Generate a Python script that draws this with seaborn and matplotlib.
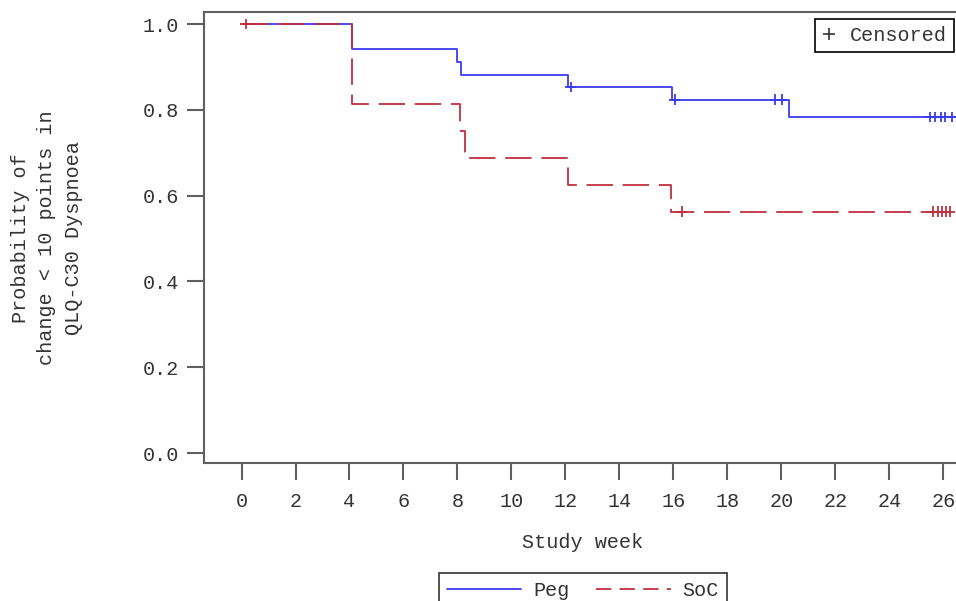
import pandas as pd
import seaborn as sns
import matplotlib.pyplot as plt
from matplotlib.lines import Line2D

# Kaplan-Meier step values (weeks, survival)
peg_weeks = [0, 4.09, 7.98, 8.13, 12.09, 15.94, 20.28, 26.6]
peg_surv = [1.0, 0.941, 0.912, 0.882, 0.853, 0.824, 0.783, 0.783]
peg_cens_weeks = [12.2, 16.05, 19.76, 20.02, 25.5, 25.7, 25.9, 26.06, 26.31]
peg_cens_surv = [0.853, 0.824, 0.824, 0.824, 0.783, 0.783, 0.783, 0.783, 0.783]

soc_weeks = [0, 4.09, 8.09, 8.28, 12.09, 15.9, 26.6]
soc_surv = [1.0, 0.8125, 0.75, 0.6875, 0.625, 0.5625, 0.5625]
soc_cens_weeks = [0.15, 16.31, 25.6, 25.8, 25.95, 26.1, 26.24]
soc_cens_surv = [1.0, 0.5625, 0.5625, 0.5625, 0.5625, 0.5625, 0.5625]

x_ticks = list(range(0, 27, 2))
y_ticks = [0.0, 0.2, 0.4, 0.6, 0.8, 1.0]

BLUE = '#3a3af0'
RED = '#c0303f'
AXC = '#606060'
FS = 14.5

sns.set_theme(style='ticks')
plt.rcParams['font.family'] = ['Liberation Mono', 'DejaVu Sans Mono']
plt.rcParams['lines.scale_dashes'] = False
plt.rcParams['text.color'] = '#333333'

curves = pd.concat([
    pd.DataFrame({'week': peg_weeks, 'surv': peg_surv, 'arm': 'Peg'}),
    pd.DataFrame({'week': soc_weeks, 'surv': soc_surv, 'arm': 'SoC'}),
], ignore_index=True)
cens = pd.concat([
    pd.DataFrame({'week': peg_cens_weeks, 'surv': peg_cens_surv, 'arm': 'Peg'}),
    pd.DataFrame({'week': soc_cens_weeks, 'surv': soc_cens_surv, 'arm': 'SoC'}),
], ignore_index=True)

fig = plt.figure(figsize=(9.56, 6.01), dpi=100)
ax = fig.add_axes([204 / 956, 1 - 463 / 601, (962 - 204) / 956, (463 - 12) / 601])

palette = {'Peg': BLUE, 'SoC': RED}
sns.lineplot(data=curves, x='week', y='surv', hue='arm', style='arm',
             palette=palette, dashes={'Peg': '', 'SoC': (19, 7)},
             drawstyle='steps-post', estimator=None, linewidth=1.3,
             legend=False, ax=ax)
sns.scatterplot(data=cens, x='week', y='surv', hue='arm', palette=palette,
                marker='+', s=60, linewidth=1.3, legend=False, ax=ax, zorder=3)

ax.set_xlim(-1.39, 26.69)
ax.set_ylim(-0.0233, 1.028)
ax.set_xticks(x_ticks)
ax.set_xticklabels([str(t) for t in x_ticks])
ax.set_yticks(y_ticks)
ax.set_yticklabels([f'{t:.1f}' for t in y_ticks])
ax.set_xlabel('')
ax.set_ylabel('')
ax.tick_params(axis='both', labelsize=FS, colors=AXC, labelcolor='#333333',
               length=12, width=1.5, direction='out')
ax.tick_params(axis='x', pad=9)
ax.tick_params(axis='y', pad=6)
for sp in ax.spines.values():
    sp.set_color(AXC)
    sp.set_linewidth(1.5)

fig.text(47 / 956, 1 - 238 / 601,
         'Probability of\nchange < 10 points in\nQLQ-C30 Dyspnoea',
         rotation=90, ha='center', va='center', multialignment='center',
         fontsize=FS, linespacing=1.5)
fig.text(583 / 956, 1 - 543 / 601, 'Study week', ha='center', va='center',
         fontsize=FS)

cens_handle = Line2D([], [], marker='+', color='#333333', linestyle='none',
                     markersize=9, markeredgewidth=1.2)
leg1 = ax.legend([cens_handle], ['Censored'], loc='upper right',
                 bbox_to_anchor=(1 - 8 / 758, 1 - 7 / 451), borderaxespad=0,
                 fontsize=FS, frameon=True, fancybox=False, edgecolor='black',
                 handlelength=0.7, handletextpad=0.7, borderpad=0.35)
leg1.get_frame().set_linewidth(1.2)
leg1.get_frame().set_alpha(1)

peg_h = Line2D([], [], color=BLUE, linewidth=1.3)
soc_h = Line2D([], [], color=RED, linewidth=1.3, dashes=(11, 6))
leg2 = fig.legend([peg_h, soc_h], ['Peg', 'SoC'], loc='upper center',
                  bbox_to_anchor=(583 / 956, 1 - 573 / 601), borderaxespad=0,
                  ncol=2, fontsize=FS, frameon=True, fancybox=False,
                  edgecolor='black', handlelength=3.7, handletextpad=0.6,
                  columnspacing=1.3)
leg2.get_frame().set_linewidth(1.2)

fig.savefig('out.png', dpi=100)
